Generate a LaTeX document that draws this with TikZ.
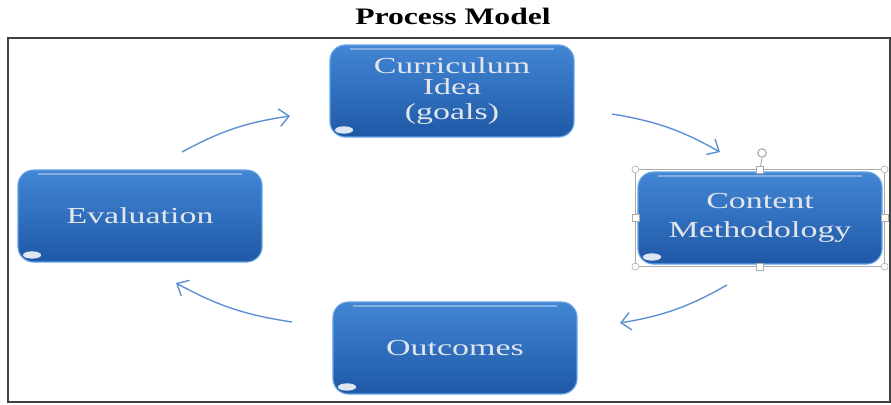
\documentclass[tikz,border=0pt]{standalone}
\usepackage{fontspec}
\setmainfont{Liberation Serif}
\newfontfamily\boxfont[FakeStretch=1.48]{Liberation Serif}
\newfontfamily\titlefont[FakeStretch=1.34]{Liberation Serif}
\usetikzlibrary{positioning,arrows.meta}
\definecolor{boxtop}{RGB}{66,134,212}
\definecolor{boxbot}{RGB}{30,88,166}
\definecolor{boxedge}{RGB}{105,165,232}
\definecolor{boxtext}{RGB}{226,230,236}
\definecolor{arrowblue}{RGB}{96,144,212}
\definecolor{handlegray}{RGB}{170,170,170}

\begin{document}
\begin{tikzpicture}[x=0.025cm,y=-0.025cm,
	bstyle/.style={rectangle, rounded corners=11pt, draw=boxedge, thick,
	top color=boxtop, bottom color=boxbot, text=boxtext,
	minimum width=6.1cm, minimum height=2.3cm, align=center,
	font=\boxfont\fontsize{16.3}{15.6}\selectfont,
	path picture={
		\fill[white,opacity=0.85,rotate=-30] ([xshift=10pt,yshift=5pt]path picture bounding box.south west) ellipse (6.5pt and 2.6pt);
		\draw[white,opacity=0.35,line width=1.5pt] ([xshift=14pt,yshift=-3pt]path picture bounding box.north west) -- ([xshift=-14pt,yshift=-3pt]path picture bounding box.north east);
	}},
	astyle/.style={arrowblue, line width=1pt, -{Straight Barb[length=2.4mm,width=4.4mm]}},
	hstyle/.style={draw=handlegray, fill=white, line width=0.4pt, inner sep=0pt, minimum size=5pt}
	]
	\useasboundingbox (0,0) rectangle (891,404);
	\node[font=\titlefont\bfseries\fontsize{16.8}{18}\selectfont] (title) at (453,16) {Process Model};
	\draw[black!75, line width=1.2pt] (8,38) rectangle (890,402);
	
	\node[bstyle] (idea) at (452,91) {Curriculum\\Idea\\[2.2pt](goals)};
	\node[bstyle, font=\boxfont\fontsize{16.3}{20.5}\selectfont] (content) at (760,218) {Content\\Methodology};
	\node[bstyle] (eval) at (140,216) {Evaluation};
	\node[bstyle] (outcome) at (455,348) {Outcomes};
	
	% selection handles
	\draw[handlegray, line width=0.4pt] ([shift={(-2,-2)}]content.north west) rectangle ([shift={(2,2)}]content.south east);
	\draw[handlegray, line width=0.6pt] ([yshift=2]content.north) -- (762,158);
	\node[draw=handlegray, circle, line width=0.8pt, inner sep=0pt, minimum size=6pt] (rot) at (762,153) {};
	\foreach \a/\dx/\dy in {north west/-2/-2, north east/2/-2, south west/-2/2, south east/2/2}
		\node[hstyle, circle] at ([shift={(\dx,\dy)}]content.\a) {};
	\foreach \a/\dx/\dy in {north/0/-2, south/0/2, west/-2/0, east/2/0}
		\node[hstyle, rectangle] at ([shift={(\dx,\dy)}]content.\a) {};
	
	\coordinate (e1) at (182,152);
	\coordinate (i1) at (290,116);
	\coordinate (i2) at (612,114);
	\coordinate (c1) at (720,152);
	\coordinate (c2) at (727,285);
	\coordinate (o1) at (620,323);
	\coordinate (o2) at (292,322);
	\coordinate (e2) at (176,283);
	
	\draw[astyle] (e1) to[bend left=10] (i1);
	\draw[astyle] (i2) to[bend left=10] (c1);
	\draw[astyle] (c2) to[bend left=10] (o1);
	\draw[astyle] (o2) to[bend left=10] (e2);
\end{tikzpicture}
\end{document}
